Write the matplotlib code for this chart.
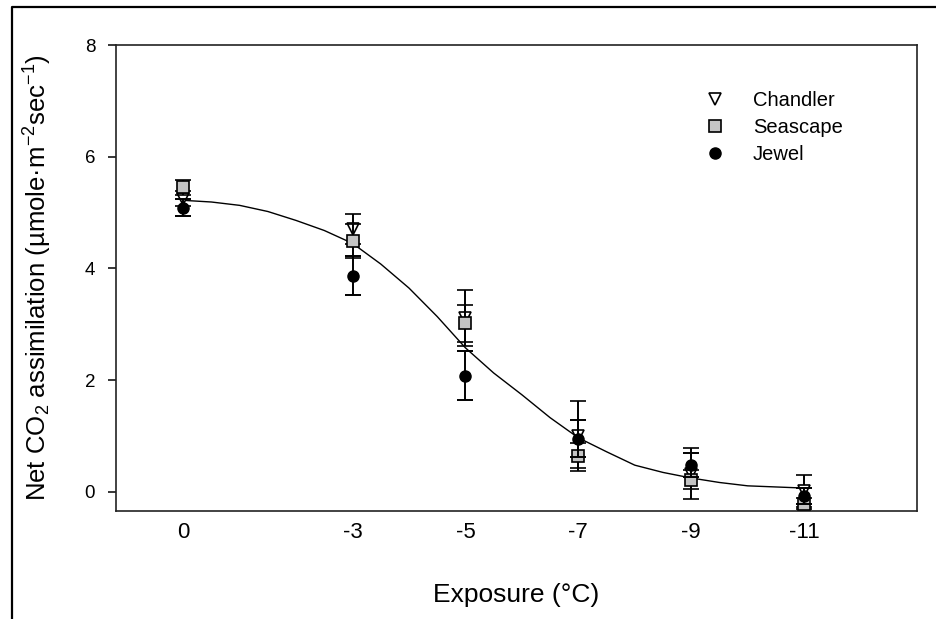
import numpy as np
import matplotlib
matplotlib.use("Agg")
import matplotlib.pyplot as plt
from matplotlib.lines import Line2D

plt.rcParams['font.family'] = ['Liberation Sans', 'DejaVu Sans']
plt.rcParams['mathtext.default'] = 'regular'
plt.rcParams['axes.unicode_minus'] = False

# exposure temperatures (deg C)
temps = [0, -3, -5, -7, -9, -11]
tick_labels = ['0', '-3', '-5', '-7', '-9', '-11']

# net CO2 assimilation means and errors per cultivar
chandler = [5.25, 4.70, 3.12, 1.00, 0.33, 0.02]
chandler_err = [0.13, 0.27, 0.50, 0.62, 0.45, 0.28]
seascape = [5.45, 4.49, 3.02, 0.65, 0.22, -0.21]
seascape_err = [0.13, 0.30, 0.33, 0.22, 0.17, 0.10]
jewel = [5.09, 3.87, 2.08, 0.95, 0.48, -0.07]
jewel_err = [0.15, 0.35, 0.44, 0.33, 0.22, 0.15]

# fitted sigmoid read along the temperature range
fit_t = [0, -0.5, -1, -1.5, -2, -2.5, -3, -3.5, -4, -4.5, -5, -5.5,
         -6, -6.5, -7, -7.5, -8, -8.5, -9, -9.5, -10, -10.5, -11]
fit_y = [5.22, 5.19, 5.13, 5.02, 4.86, 4.68, 4.45, 4.08, 3.65, 3.14, 2.58, 2.13,
         1.74, 1.33, 0.97, 0.72, 0.48, 0.35, 0.25, 0.17, 0.11, 0.09, 0.07]

fig = plt.figure(figsize=(9.37, 6.19), dpi=100)
ax = fig.add_axes([0.1238, 0.1745, 0.8549, 0.7528])

ax.plot(fit_t, fit_y, color='black', lw=1.0, zorder=2)

eb = dict(ecolor='black', elinewidth=1.4, capsize=5.5, capthick=1.4, ls='none')
ax.errorbar(temps, chandler, yerr=chandler_err, marker='v', ms=8.5,
            mfc='white', mec='black', mew=1.2, zorder=3, **eb)
ax.errorbar(temps, seascape, yerr=seascape_err, marker='s', ms=8.5,
            mfc='#c4c4c4', mec='black', mew=1.2, zorder=4, **eb)
ax.errorbar(temps, jewel, yerr=jewel_err, marker='o', ms=8,
            mfc='black', mec='black', zorder=5, **eb)

ax.set_xlim(1.19, -13.0)
ax.set_ylim(-0.34, 8)
ax.set_xticks(temps)
ax.set_xticklabels(tick_labels)
ax.set_yticks([0, 2, 4, 6, 8])
ax.tick_params(axis='x', length=0, pad=8, labelsize=16)
ax.tick_params(axis='y', direction='out', length=6, width=1.1, pad=9, labelsize=13.5)
for s in ax.spines.values():
    s.set_linewidth(1.2)
    s.set_color('#222222')

ax.set_xlabel('Exposure (°C)', fontsize=19)
ax.xaxis.set_label_coords(0.5, -0.1545)
ax.set_ylabel(r'Net CO$_2$ assimilation (µmole·m$^{-2}$sec$^{-1}$)',
              fontsize=18.5, va='center')
ax.yaxis.set_label_coords(-0.0974, 0.5)

handles = [
    Line2D([], [], ls='none', marker='v', ms=8.5, mfc='white', mec='black', mew=1.2),
    Line2D([], [], ls='none', marker='s', ms=8.5, mfc='#c4c4c4', mec='black', mew=1.2),
    Line2D([], [], ls='none', marker='o', ms=8, mfc='black', mec='black'),
]
ax.legend(handles, ['Chandler', 'Seascape', 'Jewel'], loc='upper left',
          bbox_to_anchor=(0.7225, 0.923), frameon=False, fontsize=14.5,
          handlelength=1.0, handletextpad=1.4, labelspacing=0.4, borderpad=0)

# outer frame of the panel
x0 = 12 / 937
y0 = 1 - 7 / 619
fig.add_artist(Line2D([x0, x0, 1.0], [0.0, y0, y0], color='black', lw=1.6,
                      transform=fig.transFigure))

fig.savefig('out.png', dpi=100)
